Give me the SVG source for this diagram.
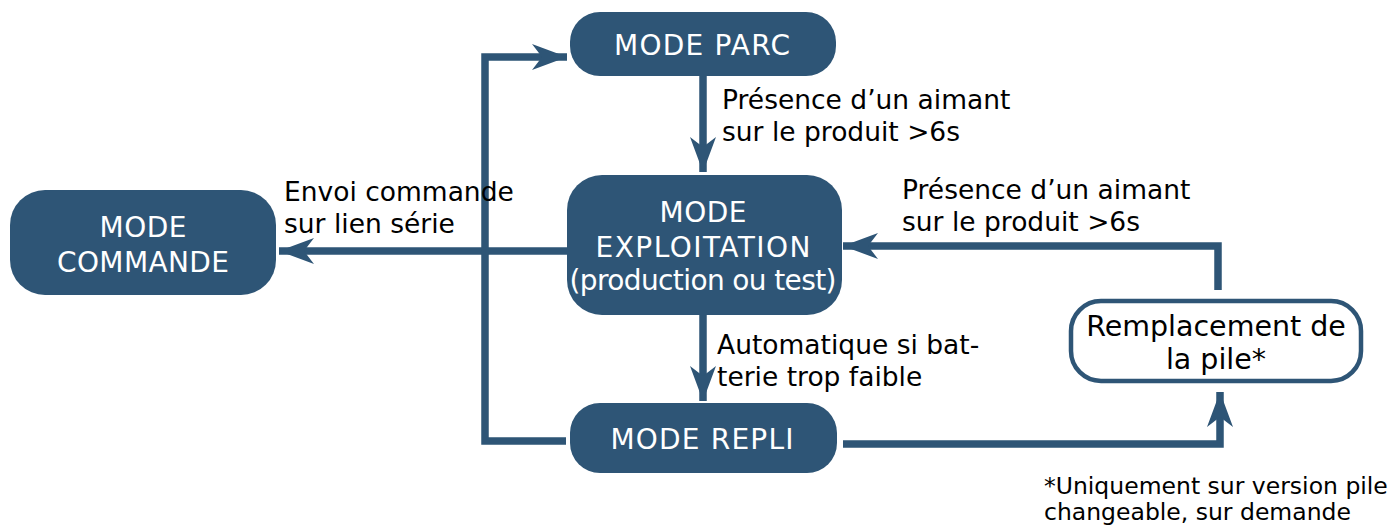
<svg xmlns="http://www.w3.org/2000/svg" width="1400" height="527" viewBox="0 0 1400 527">
<style>
.node{fill:#2e5576;}
.wt{fill:#ffffff;font-family:"DejaVu Sans",Verdana,sans-serif;font-size:28px;text-anchor:middle;}
.bt{fill:#000000;font-family:"DejaVu Sans",Verdana,sans-serif;font-size:26.5px;}
.ft{fill:#000000;font-family:"DejaVu Sans",Verdana,sans-serif;font-size:23.5px;}
.ln{fill:none;stroke:#2e5576;stroke-width:7.5;}
</style>
<defs>
<marker id="ah" viewBox="0 0 36 26" refX="35" refY="13" markerWidth="36" markerHeight="26" markerUnits="userSpaceOnUse" orient="auto">
<path d="M0,0 L35,13 L0,26 L10,13 Z" fill="#2e5576"/>
</marker>
</defs>
<rect width="1400" height="527" fill="#ffffff"/>
<g id="connectors">
<path class="ln" d="M703,76 V172" marker-end="url(#ah)"/>
<path class="ln" d="M567,251 H279" marker-end="url(#ah)"/>
<path class="ln" d="M566,441 H485 V57 H567" marker-end="url(#ah)"/>
<path class="ln" d="M703,315 V401" marker-end="url(#ah)"/>
<path class="ln" d="M843,444 H1220 V392" marker-end="url(#ah)"/>
<path class="ln" d="M1218,290 V246 H843" marker-end="url(#ah)"/>
</g>
<g id="mode-parc">
<rect class="node" x="570" y="12" width="266" height="64" rx="30"/>
<text class="wt" x="702" y="55" font-size="29" textLength="176">MODE PARC</text>
</g>
<g id="mode-exploitation">
<rect class="node" x="567" y="175" width="275" height="140" rx="35"/>
<text class="wt" x="703" y="222" textLength="87">MODE</text>
<text class="wt" x="703" y="257" textLength="215">EXPLOITATION</text>
<text class="wt" x="703" y="290" textLength="267">(production ou test)</text>
</g>
<g id="mode-commande">
<rect class="node" x="10" y="190" width="266" height="105" rx="35"/>
<text class="wt" x="143" y="237" textLength="87">MODE</text>
<text class="wt" x="143" y="272" textLength="172">COMMANDE</text>
</g>
<g id="mode-repli">
<rect class="node" x="570" y="403" width="267" height="70" rx="30"/>
<text class="wt" x="702" y="449" font-size="29" textLength="183">MODE REPLI</text>
</g>
<g id="remplacement">
<rect x="1071" y="301" width="290" height="80" rx="30" fill="#ffffff" stroke="#2e5576" stroke-width="4.5"/>
<text class="wt" x="1216" y="336" style="fill:#000;font-size:28.5px">Remplacement de</text>
<text class="wt" x="1216" y="369" style="fill:#000;font-size:28.5px">la pile*</text>
</g>
<g id="labels">
<text class="bt" x="722" y="109">Présence d’un aimant</text>
<text class="bt" x="722" y="141">sur le produit &gt;6s</text>
<text class="bt" x="284" y="201">Envoi commande</text>
<text class="bt" x="284" y="233">sur lien série</text>
<text class="bt" x="902" y="199">Présence d’un aimant</text>
<text class="bt" x="902" y="231">sur le produit &gt;6s</text>
<text class="bt" x="717" y="354">Automatique si bat-</text>
<text class="bt" x="717" y="386">terie trop faible</text>
<text class="ft" x="1044" y="494">*Uniquement sur version pile</text>
<text class="ft" x="1044" y="520">changeable, sur demande</text>
</g>
</svg>
